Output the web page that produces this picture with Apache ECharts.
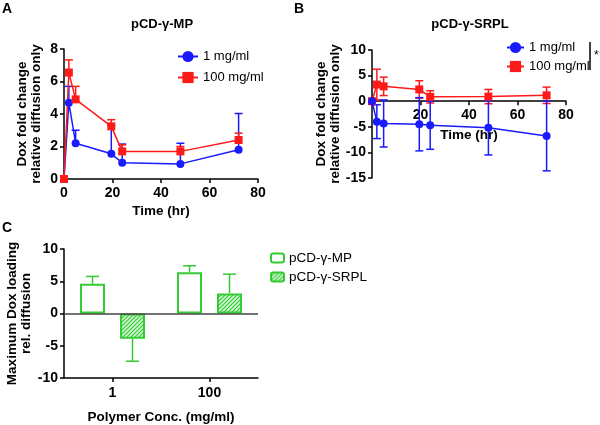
<!DOCTYPE html>
<html><head><meta charset="utf-8">
<script src="https://cdn.jsdelivr.net/npm/echarts@6/dist/echarts.min.js"></script>
<style>html,body{margin:0;padding:0;background:#fff}#c{width:600px;height:425px}</style>
</head><body><div id="c"></div>
<script>
// ---- data ----
const timesHr = [0, 2, 4.8, 19.5, 24, 48, 72];
const mpLow = [0, 4.7, 2.2, 1.55, 1.0, 0.93, 1.8];
const mpLowErr = [0, 1.0, 0.8, 1.75, 1.15, 1.27, 2.23];
const mpHigh = [0, 6.55, 4.9, 3.24, 1.7, 1.7, 2.4];
const mpHighErr = [0, 0.78, 0.8, 0.41, 0.4, 0.3, 0.42];
const srplLow = [0, -4.0, -4.35, -4.5, -4.7, -5.2, -6.8];
const srplLowErr = [0, 3.3, 4.6, 5.2, 4.7, 5.3, 6.8];
const srplHigh = [0, 3.25, 2.9, 2.3, 0.85, 0.9, 1.15];
const srplHighErr = [0, 3.0, 1.8, 1.7, 1.2, 1.4, 1.6];
const concCats = ['1', '100'];
const maxMP = [4.6, 6.4];
const maxMPErr = [1.15, 1.0];
const maxSRPL = [-3.9, 3.1];
const maxSRPLErr = [3.5, 3.0];
const xTicksTime = {min: 0, max: 80, interval: 20};

// ---- styles ----
const FONT = "'Liberation Sans', Arial, sans-serif";
const BLUE = '#1a1aff', RED = '#ff1a1a', GREEN = '#33cc33';

const pat = document.createElement('canvas');
pat.width = 4; pat.height = 4;
(function(){
  const g = pat.getContext('2d');
  g.fillStyle = '#d6f5d6'; g.fillRect(0,0,4,4);
  g.strokeStyle = GREEN; g.lineWidth = 1.2;
  g.beginPath(); g.moveTo(0,4); g.lineTo(4,0); g.moveTo(-1,1); g.lineTo(1,-1); g.moveTo(3,5); g.lineTo(5,3); g.stroke();
})();

function errRender(color, mode, cap) {
  return function (params, api) {
    const x = api.value(0), y = api.value(1), e = api.value(2), off = api.value(3) || 0;
    if (!e) return null;
    let lo = y, hi = y;
    if (mode === 'up') hi = y + e;
    else if (mode === 'both') { lo = y - e; hi = y + e; }
    else { if (y >= 0) hi = y + e; else lo = y - e; }
    const p1 = api.coord([x, lo]), p2 = api.coord([x, hi]);
    const cx = p1[0] + off;
    const st = {stroke: color, lineWidth: 1.5};
    const ch = [{type: 'line', shape: {x1: cx, y1: p1[1], x2: cx, y2: p2[1]}, style: st}];
    const addCap = (py) => ch.push({type: 'line', shape: {x1: cx - cap / 2, y1: py, x2: cx + cap / 2, y2: py}, style: st});
    if (mode === 'up') addCap(p2[1]);
    else if (mode === 'both') { addCap(p1[1]); addCap(p2[1]); }
    else addCap(y >= 0 ? p2[1] : p1[1]);
    return {type: 'group', children: ch};
  };
}

const tickLabel = {fontFamily: FONT, fontWeight: 'bold', fontSize: 14, color: '#000'};
const nameStyle = {fontFamily: FONT, fontWeight: 'bold', fontSize: 13.5, color: '#000', lineHeight: 14};
const axLine = {show: true, onZero: false, lineStyle: {color: '#000', width: 1.5}};
const axTick = {show: true, length: 4, lineStyle: {color: '#000', width: 1.5}};

// grid B geometry: zero of y sits 10/25 of the way down
const gB = {left: 372, top: 50, width: 194, height: 128};
const zeroOffsetB = -gB.height * 15 / 25;

const chart = echarts.init(document.getElementById('c'), null, {renderer: 'canvas'});
chart.setOption({
  animation: false,
  backgroundColor: '#fff',
  grid: [
    {left: 64, top: 49, width: 194, height: 130},
    gB,
    {left: 64, top: 249, width: 194, height: 129}
  ],
  xAxis: [
    {gridIndex: 0, type: 'value', ...xTicksTime, axisLine: axLine, axisTick: axTick,
     axisLabel: {...tickLabel, margin: 7}, splitLine: {show: false},
     name: 'Time (hr)', nameLocation: 'middle', nameGap: 25, nameTextStyle: nameStyle},
    {gridIndex: 1, type: 'value', ...xTicksTime, offset: zeroOffsetB, axisLine: axLine, axisTick: axTick,
     axisLabel: {...tickLabel, margin: 7, formatter: v => v === 0 ? '' : String(v)}, splitLine: {show: false},
     name: 'Time (hr)', nameLocation: 'middle', nameGap: 27, nameTextStyle: nameStyle},
    {gridIndex: 2, type: 'category', data: concCats, axisLine: axLine,
     axisTick: {...axTick, alignWithLabel: true}, axisLabel: {...tickLabel, margin: 8},
     name: 'Polymer Conc. (mg/ml)', nameLocation: 'middle', nameGap: 32, nameTextStyle: nameStyle}
  ],
  yAxis: [
    {gridIndex: 0, type: 'value', min: 0, max: 8, interval: 2, axisLine: axLine, axisTick: axTick,
     axisLabel: {...tickLabel, margin: 6}, splitLine: {show: false},
     name: 'Dox fold change\nrelative diffusion only', nameLocation: 'middle', nameGap: 21, nameTextStyle: nameStyle},
    {gridIndex: 1, type: 'value', min: -15, max: 10, interval: 5, axisLine: axLine, axisTick: axTick,
     axisLabel: {...tickLabel, margin: 6}, splitLine: {show: false},
     name: 'Dox fold change\nrelative diffusion only', nameLocation: 'middle', nameGap: 29, nameTextStyle: nameStyle},
    {gridIndex: 2, type: 'value', min: -10, max: 10, interval: 5, axisLine: axLine, axisTick: axTick,
     axisLabel: {...tickLabel, margin: 6}, splitLine: {show: false},
     name: 'Maximum Dox loading\nrel. diffusion', nameLocation: 'middle', nameGap: 31, nameTextStyle: nameStyle}
  ],
  legend: [
    {left: 172, top: 45, orient: 'vertical', itemWidth: 20, itemHeight: 14, itemGap: 8, itemTextGap: 8,
     data: ['1 mg/ml', '100 mg/ml'], textStyle: {fontFamily: FONT, fontSize: 13, color: '#000'}},
    {left: 501, top: 36, orient: 'vertical', itemWidth: 17, itemHeight: 14, itemGap: 6, itemTextGap: 5,
     data: ['1 mg/ml', '100 mg/ml'], textStyle: {fontFamily: FONT, fontSize: 13, color: '#000'}},
    {left: 265, top: 246, orient: 'vertical', itemWidth: 13, itemHeight: 9, itemGap: 5, itemTextGap: 7,
     data: ['pCD-γ-MP', 'pCD-γ-SRPL'], textStyle: {fontFamily: FONT, fontSize: 13.5, color: '#000'}}
  ],
  graphic: [
    {type: 'text', x: 2, y: 2, style: {text: 'A', font: 'bold 14px ' + FONT, fill: '#000'}},
    {type: 'text', x: 294, y: 2, style: {text: 'B', font: 'bold 14px ' + FONT, fill: '#000'}},
    {type: 'text', x: 2, y: 221, style: {text: 'C', font: 'bold 14px ' + FONT, fill: '#000'}},
    {type: 'text', x: 162, y: 24, style: {text: 'pCD-γ-MP', font: 'bold 13px ' + FONT, fill: '#000', align: 'center', verticalAlign: 'middle', textAlign: 'center', textVerticalAlign: 'middle'}},
    {type: 'text', x: 470, y: 24, style: {text: 'pCD-γ-SRPL', font: 'bold 13px ' + FONT, fill: '#000', align: 'center', verticalAlign: 'middle', textAlign: 'center', textVerticalAlign: 'middle'}},
    {type: 'line', shape: {x1: 590, y1: 42, x2: 590, y2: 70}, style: {stroke: '#000', lineWidth: 1.5}},
    {type: 'text', x: 594, y: 50, style: {text: '*', font: '12px ' + FONT, fill: '#000'}}
  ],
  series: [
    // Panel A
    {type: 'custom', xAxisIndex: 0, yAxisIndex: 0, renderItem: errRender(BLUE, 'up', 8), encode: {x: 0, y: 1},
     data: timesHr.map((t, i) => [t, mpLow[i], mpLowErr[i]]), silent: true},
    {type: 'custom', xAxisIndex: 0, yAxisIndex: 0, renderItem: errRender(RED, 'up', 8), encode: {x: 0, y: 1},
     data: timesHr.map((t, i) => [t, mpHigh[i], mpHighErr[i]]), silent: true},
    {name: '1 mg/ml', type: 'line', xAxisIndex: 0, yAxisIndex: 0, symbol: 'circle', symbolSize: 8,
     itemStyle: {color: BLUE}, lineStyle: {color: BLUE, width: 1.5}, data: timesHr.map((t, i) => [t, mpLow[i]])},
    {name: '100 mg/ml', type: 'line', xAxisIndex: 0, yAxisIndex: 0, symbol: 'rect', symbolSize: 8,
     itemStyle: {color: RED}, lineStyle: {color: RED, width: 1.5}, data: timesHr.map((t, i) => [t, mpHigh[i]])},
    // Panel B
    {type: 'custom', xAxisIndex: 1, yAxisIndex: 1, renderItem: errRender(RED, 'both', 8), encode: {x: 0, y: 1},
     data: timesHr.map((t, i) => [t, srplHigh[i], srplHighErr[i]]), silent: true},
    {type: 'custom', xAxisIndex: 1, yAxisIndex: 1, renderItem: errRender(BLUE, 'both', 8), encode: {x: 0, y: 1},
     data: timesHr.map((t, i) => [t, srplLow[i], srplLowErr[i]]), silent: true},
    {name: '100 mg/ml', type: 'line', xAxisIndex: 1, yAxisIndex: 1, symbol: 'rect', symbolSize: 8,
     itemStyle: {color: RED}, lineStyle: {color: RED, width: 1.5}, data: timesHr.map((t, i) => [t, srplHigh[i]])},
    {name: '1 mg/ml', type: 'line', xAxisIndex: 1, yAxisIndex: 1, symbol: 'circle', symbolSize: 8,
     itemStyle: {color: BLUE}, lineStyle: {color: BLUE, width: 1.5}, data: timesHr.map((t, i) => [t, srplLow[i]])},
    // Panel C
    {name: 'pCD-γ-MP', type: 'bar', xAxisIndex: 2, yAxisIndex: 2, barWidth: 25, barGap: '60%',
     itemStyle: {color: '#fff', borderColor: GREEN, borderWidth: 2}, data: maxMP,
     markLine: {silent: true, symbol: 'none', label: {show: false}, lineStyle: {color: '#444', width: 1.5, type: 'solid'},
                data: [{yAxis: 0}]}},
    {name: 'pCD-γ-SRPL', type: 'bar', xAxisIndex: 2, yAxisIndex: 2, barWidth: 25, barGap: '60%',
     itemStyle: {color: {image: pat, repeat: 'repeat'}, borderColor: GREEN, borderWidth: 2}, data: maxSRPL},
    {type: 'custom', xAxisIndex: 2, yAxisIndex: 2, renderItem: errRender(GREEN, 'dir', 13), encode: {x: 0, y: 1},
     data: concCats.map((c, i) => [i, maxMP[i], maxMPErr[i], -20]), silent: true, z: 1},
    {type: 'custom', xAxisIndex: 2, yAxisIndex: 2, renderItem: errRender(GREEN, 'dir', 13), encode: {x: 0, y: 1},
     data: concCats.map((c, i) => [i, maxSRPL[i], maxSRPLErr[i], 20]), silent: true, z: 1}
  ]
});
</script></body></html>
